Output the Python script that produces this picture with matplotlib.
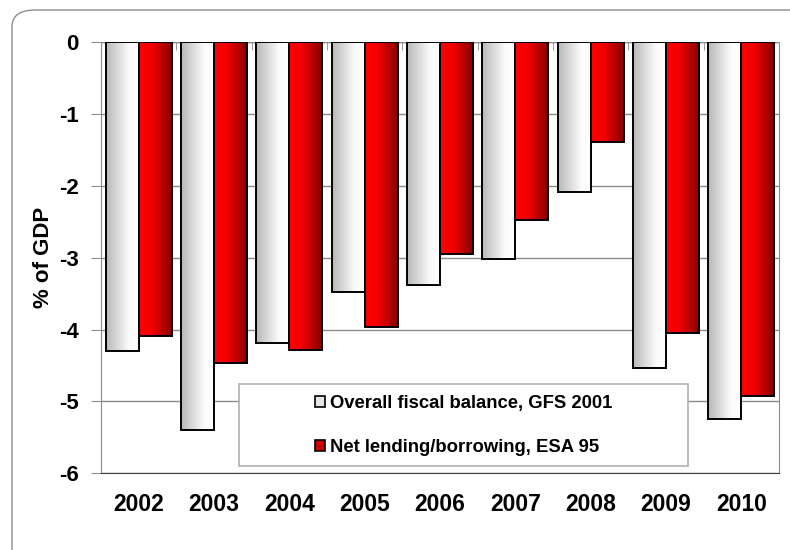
import numpy as np
import matplotlib
matplotlib.use("Agg")
import matplotlib.pyplot as plt
from matplotlib.colors import LinearSegmentedColormap
from matplotlib.patches import FancyBboxPatch, Rectangle, Patch

years = ["2002", "2003", "2004", "2005", "2006", "2007", "2008", "2009", "2010"]
gfs_2001 = [-4.30, -5.40, -4.18, -3.48, -3.38, -3.02, -2.08, -4.54, -5.25]
esa_95 = [-4.09, -4.47, -4.28, -3.97, -2.95, -2.47, -1.39, -4.05, -4.92]
y_ticks = [0, -1, -2, -3, -4, -5, -6]
labels = ["Overall fiscal balance, GFS 2001", "Net lending/borrowing, ESA 95"]

plt.rcParams["font.family"] = ["Liberation Sans", "DejaVu Sans"]
plt.rcParams["font.weight"] = "bold"
plt.rcParams["axes.labelweight"] = "bold"

fig = plt.figure(figsize=(7.9, 5.5), dpi=100)

# rounded outer frame
frame = FancyBboxPatch((12 / 790, -0.05), 1.02, 1.0 - 10 / 550 + 0.05,
                       boxstyle="round,pad=0,rounding_size=0.03",
                       transform=fig.transFigure, facecolor="none",
                       edgecolor="#8c8c8c", linewidth=1.0, zorder=-5)
fig.patches.append(frame)

ax = fig.add_axes([101 / 790, 1 - 473.3 / 550, 678 / 790, 431 / 550])
ax.set_facecolor("none")

gray_cmap = LinearSegmentedColormap.from_list(
    "g", [(0, "#b8b8b8"), (0.7, "#fbfbfb"), (1, "#ffffff")])
red_cmap = LinearSegmentedColormap.from_list(
    "r", [(0, "#ff0000"), (0.4, "#f20000"), (1, "#870000")])
grad = np.linspace(0, 1, 64).reshape(1, -1)

x = np.arange(len(years))
w = 0.438
b1 = ax.bar(x - w / 2, gfs_2001, w, facecolor="none", edgecolor="black",
            linewidth=1.4, zorder=4)
b2 = ax.bar(x + w / 2, esa_95, w, facecolor="none", edgecolor="black",
            linewidth=1.4, zorder=4)

for bars, cmap in ((b1, gray_cmap), (b2, red_cmap)):
    for p in bars:
        x0, y0 = p.get_x(), p.get_y()
        ax.imshow(grad, cmap=cmap, aspect="auto", zorder=3,
                  extent=(x0, x0 + p.get_width(), y0, y0 + p.get_height()))

ax.set_xlim(-0.5, len(years) - 0.5)
ax.set_ylim(-6, 0)
ax.set_yticks(y_ticks)
ax.set_yticklabels([str(v) for v in y_ticks], fontweight="bold")
ax.yaxis.grid(True, color="#8c8c8c", linewidth=1.0)
ax.set_axisbelow(True)
ax.axhline(0, color="#8c8c8c", linewidth=1.0, zorder=2)

for s in ("left", "right"):
    ax.spines[s].set_color("#8c8c8c")
ax.spines["bottom"].set_color("#404040")
ax.spines["top"].set_visible(False)

ax.tick_params(axis="y", length=7, color="#8c8c8c", labelsize=16, pad=9)
ax.set_xticks(x)
ax.set_xticklabels(years, fontweight="bold")
ax.tick_params(axis="x", length=0, labelsize=16.5, pad=14)
# category separator ticks on the zero line
ax.set_xticks(np.arange(0.5, len(years) - 1, 1), minor=True)
ax.tick_params(axis="x", which="minor", length=6, color="#8c8c8c",
               direction="in", bottom=False, top=True)
ax.set_ylabel("% of GDP", fontsize=16, fontweight="bold")
ax.yaxis.set_label_coords(-0.07, 0.5)

# legend
ax.add_patch(Rectangle(((239 - 101) / 678, (473.3 - 466) / 431),
                       (688 - 239) / 678, (466 - 384) / 431,
                       transform=ax.transAxes, facecolor="white",
                       edgecolor="#b0b0b0", linewidth=1.2, zorder=5))
handles = [Patch(facecolor="#e6e6e6", edgecolor="black", linewidth=1.2),
           Patch(facecolor="#cc0000", edgecolor="black", linewidth=1.2)]
leg = ax.legend(handles, labels, loc="center", frameon=False,
                prop={"weight": "bold", "size": 13.3},
                bbox_to_anchor=((463.5 - 101) / 678, (473.3 - 425.5) / 431),
                handlelength=0.55, handleheight=0.55, handletextpad=0.25,
                labelspacing=1.45)
leg.set_zorder(6)

fig.savefig("out.png", dpi=100)
